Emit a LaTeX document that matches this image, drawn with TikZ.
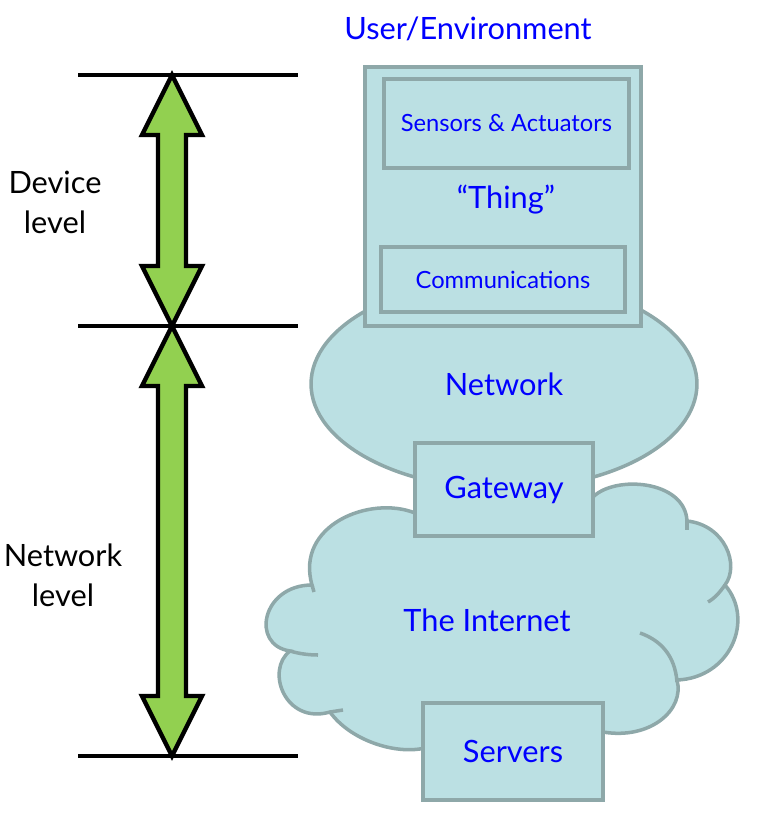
\documentclass[tikz,border=0pt]{standalone}
\usepackage{fontspec}
\setmainfont{Lato}
\usetikzlibrary{shapes.geometric,calc}

\definecolor{boxfill}{HTML}{BBE0E3}
\definecolor{boxline}{HTML}{8EA8A9}
\definecolor{levelgreen}{HTML}{92D050}

% double arrow between two level marks
\newcommand{\levelarrow}[2]{%
  \draw[levelarr] (#1) -- ($(#1)+(30,60)$) -- ($(#1)+(14,60)$)
    -- ($(#2)+(14,-60)$) -- ($(#2)+(30,-60)$) -- (#2)
    -- ($(#2)+(-30,-60)$) -- ($(#2)+(-14,-60)$)
    -- ($(#1)+(-14,60)$) -- ($(#1)+(-30,60)$) -- cycle;}

\begin{document}
\begin{tikzpicture}[x=0.02cm, y=-0.02cm,
    box/.style={draw=boxline, line width=2pt, fill=boxfill, text=blue, font=\fontsize{17.5}{21}\selectfont},
    smallbox/.style={box, font=\fontsize{13.5}{16}\selectfont},
    cloudline/.style={draw=boxline, line width=2pt},
    lbl/.style={text=blue, font=\fontsize{17.5}{21}\selectfont},
    side/.style={align=center, font=\fontsize{17.5}{22.7}\selectfont},
    levelline/.style={line width=2.2pt},
    levelarr/.style={draw=black, line width=2.5pt, fill=levelgreen, line join=miter}
]
\useasboundingbox (0,0) rectangle (763,838);

% level marks
\coordinate (devtop) at (172,75);
\coordinate (devbot) at (172,326);
\coordinate (netbot) at (172,756);
\foreach \c in {devtop,devbot,netbot}
  \draw[levelline] ($(\c)+(-94,0)$) -- ($(\c)+(126,0)$);
\levelarrow{devtop}{devbot}
\levelarrow{devbot}{netbot}
\node[side] (devlbl) at (55,202) {Device\\level};
\node[side] (netlbl) at (63,575) {Network\\level};

% network and internet
\node[box, ellipse, minimum width=7.72cm, minimum height=4.2cm] (net) at (504,384) {Network};
\path[cloudline, fill=boxfill] (415,513)
  .. controls (370,495) and (295,525) .. (312,585)
  .. controls (262,585) and (250,645) .. (290,651)
  .. controls (265,670) and (285,725) .. (330,712)
  .. controls (350,740) and (395,755) .. (425,748)
  -- (603,732)
  .. controls (650,740) and (685,710) .. (677,680)
  .. controls (730,678) and (755,620) .. (725,585)
  .. controls (740,565) and (725,525) .. (687,521)
  .. controls (685,480) and (615,475) .. (593,497)
  -- cycle;
\draw[cloudline] (312,585) -- (314,592);
\draw[cloudline] (290,651) .. controls (300,654) and (310,655) .. (318,655);
\draw[cloudline] (330,712) -- (343,710);
\draw[cloudline] (677,682) .. controls (675,655) and (660,640) .. (640,633);
\draw[cloudline] (725,585) .. controls (720,592) and (715,598) .. (708,602);
\draw[cloudline] (687,521) -- (687,530);
\node[lbl] (inet) at (487,620) {The Internet};

% the thing
\node[lbl] (user) at (468,29) {User/Environment};
\node[box, minimum width=5.52cm, minimum height=5.18cm] (thing) at (503,196.5) {};
\node[smallbox, minimum width=4.9cm, minimum height=1.78cm] (sens) at (506.5,123.5) {Sensors \& Actuators};
\node[lbl] (thinglbl) at (506,200) {“Thing”};
\node[smallbox, minimum width=4.88cm, minimum height=1.3cm] (comm) at (503,279.5) {Communications};

\node[box, minimum width=3.56cm, minimum height=1.86cm] (gw) at (504,489.5) {Gateway};
\node[box, minimum width=3.6cm, minimum height=1.94cm] (srv) at (513,751.5) {Servers};
\end{tikzpicture}
\end{document}
